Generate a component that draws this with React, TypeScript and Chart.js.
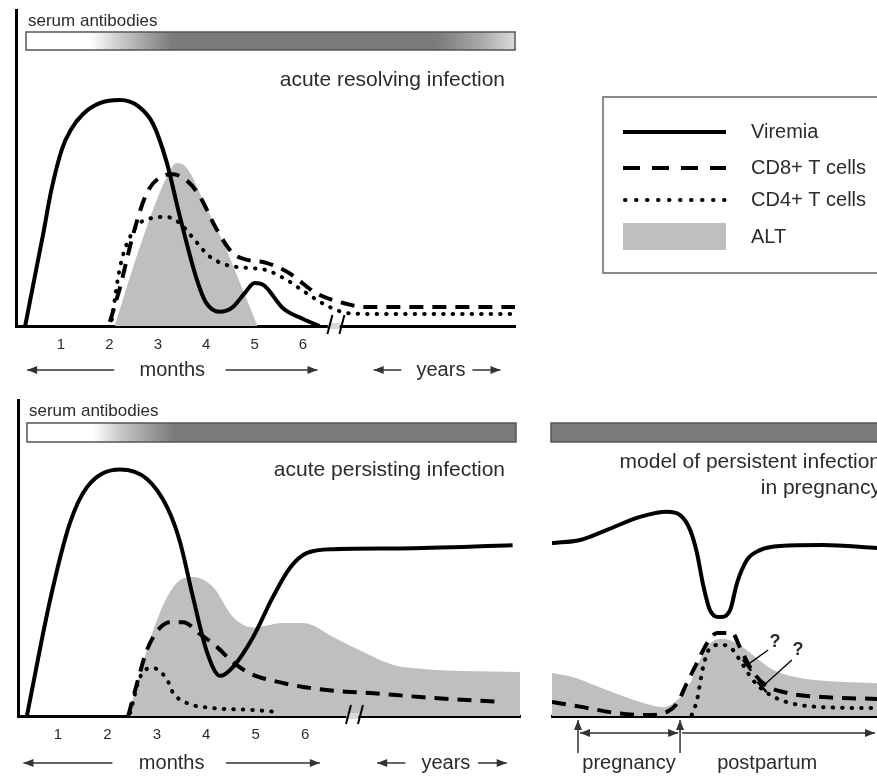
import React, { useEffect, useRef } from 'react';
import { Chart, registerables } from 'chart.js';

Chart.register(...registerables);

const FONT = '"Liberation Sans", Arial, Helvetica, sans-serif';
Chart.defaults.font.family = FONT;

// ---------- data ----------
const monthTicks = [1, 2, 3, 4, 5, 6];

// acute resolving infection  [month, level]
const topViremia = [[0.26, 0], [0.45, 15], [0.63, 29], [0.8, 43], [1.02, 56], [1.2, 62], [1.45, 67], [1.8, 70.5], [2.22, 71.5], [2.6, 69.5], [2.9, 64], [3.18, 52], [3.45, 35], [3.8, 15], [4.0, 7.3], [4.28, 4.5], [4.55, 6], [4.8, 10.5], [5.0, 13.6], [5.2, 12.8], [5.58, 5.7], [6.0, 2.2], [6.34, 0]];
const topCD8 = [[2.01, 1.3], [2.22, 12.3], [2.49, 29], [2.77, 42], [3.04, 47], [3.31, 48], [3.6, 46], [3.87, 41], [4.2, 31], [4.55, 23], [4.83, 21], [5.24, 20], [5.72, 16.7], [6.27, 10.4], [6.75, 7.6], [7.3, 6], [10.4, 6]];
const topCD4 = [[2.05, 2], [2.22, 18.7], [2.49, 30], [2.83, 34], [3.18, 34.5], [3.45, 32.6], [3.72, 28], [4.07, 22], [4.42, 19.3], [4.83, 18.4], [5.24, 17.7], [5.66, 14.6], [6.07, 10.4], [6.55, 6], [6.96, 4], [7.5, 3.8], [10.4, 3.8]];
const topALT = [[2.11, 0], [2.49, 18.7], [2.9, 36.7], [3.18, 47], [3.39, 51.6], [3.6, 50], [4.0, 37.7], [4.42, 24], [4.76, 11.4], [5.06, 0]];

// acute persisting infection
const botViremia = [[0.37, 0], [0.84, 36.7], [1.24, 61], [1.59, 72.5], [2.25, 78], [2.8, 75], [3.21, 66], [3.47, 55], [3.73, 37.7], [4.02, 20], [4.28, 12.7], [4.54, 15.5], [4.95, 25], [5.35, 37.7], [5.7, 47], [6.04, 51.6], [6.57, 52.8], [7.92, 53], [10.2, 54]];
const botCD8 = [[2.42, 0], [2.6, 10.4], [2.8, 20.9], [3.07, 28], [3.27, 29.7], [3.53, 29.7], [3.87, 26], [4.22, 21.8], [4.54, 17], [4.95, 13], [5.29, 11.4], [5.96, 9.2], [6.65, 7.9], [7.32, 7.3], [8.33, 6], [10.0, 4.4]];
const botCD4 = [[2.46, 1], [2.66, 12.3], [2.92, 15.2], [3.21, 11.4], [3.33, 7.3], [3.61, 4.1], [4.14, 2.5], [4.95, 1.9], [5.43, 1.3]];
const botALT = [[2.42, 0], [2.86, 24], [3.21, 37.7], [3.47, 43], [3.73, 44], [4.14, 40.8], [4.54, 31.3], [4.95, 28], [5.55, 29.4], [5.96, 29.4], [6.57, 25], [6.97, 21.8], [7.98, 15.5], [10.35, 13.9]];

// model of persistent infection in pregnancy  [time unit, level]
const pregViremia = [[0, 54.7], [0.86, 55.7], [1.69, 58.9], [2.71, 63], [3.54, 64.6], [3.94, 63.6], [4.25, 58.9], [4.46, 51.6], [4.65, 41.5], [4.86, 33.5], [5.17, 31.3], [5.48, 33.5], [5.69, 42], [6.0, 49.4], [6.4, 52.5], [7.02, 53.8], [8.34, 54.1], [10, 53.2]];
const pregCD8 = [[0, 4.4], [0.95, 2.8], [2, 0.9], [3, 0.3], [3.54, 1.3], [3.85, 4], [4.15, 10.4], [4.46, 16.8], [4.77, 23], [5.08, 26.3], [5.54, 26.3], [5.78, 21.8], [6.09, 15.5], [6.49, 10.4], [7.23, 7.3], [8.34, 6], [10, 5.4]];
const pregCD4 = [[4.3, 0.3], [4.46, 5], [4.65, 15.5], [4.86, 21.5], [5.17, 22.5], [5.48, 21.8], [5.78, 17.7], [6.18, 11.4], [6.62, 7.3], [7.23, 4.4], [8.34, 2.8], [10, 2.5]];
const pregALT = [[0, 13.6], [0.65, 12.3], [1.69, 8.2], [2.71, 4.4], [3.42, 2.8], [3.85, 5], [4.25, 10.4], [4.55, 17.7], [4.86, 23], [5.26, 24.4], [5.69, 23], [6.18, 19.3], [6.8, 14.6], [7.63, 12], [8.86, 10.8], [10, 10.4]];

// annotation positions (in data units)
const pregnancyStart = 0.8;
const delivery = 3.94;
const questionMarks = [[6.86, 23.4], [7.57, 20.9]];
const questionLines = [[[6.65, 20.9], [6.0, 16.1]], [[7.38, 17.7], [6.46, 9.2]]];
const monthsArrow = [0.3, 2.1, 3.3, 4.4, 6.3];
const yearsArrow = [7.46, 8.03, 8.85, 9.5, 10.08];
const topBreak = 6.69;
const botBreak = 7.01;

const legendLabels = ['Viremia', 'CD8+ T cells', 'CD4+ T cells', 'ALT'];

// ---------- drawing helpers ----------
const TXT = '#2b2b2b';
const ALT_FILL = '#bfbfbf';

const toXY = (a: number[][]) => a.map(([x, y]) => ({ x, y }));

function makeDatasets(vir: number[][], cd8: number[][], cd4: number[][], alt: number[][]) {
  return [
    { label: legendLabels[0], data: toXY(vir), borderColor: '#000', borderWidth: 4, fill: false, cubicInterpolationMode: 'monotone', order: 1 },
    { label: legendLabels[1], data: toXY(cd8), borderColor: '#000', borderWidth: 4, borderDash: [14, 9], fill: false, cubicInterpolationMode: 'monotone', order: 2 },
    { label: legendLabels[2], data: toXY(cd4), borderColor: '#000', borderWidth: 4, borderDash: [0.5, 9], borderCapStyle: 'round', fill: false, cubicInterpolationMode: 'monotone', order: 3 },
    { label: legendLabels[3], data: toXY(alt), borderColor: 'rgba(0,0,0,0)', borderWidth: 0, backgroundColor: ALT_FILL, fill: 'origin', cubicInterpolationMode: 'monotone', order: 4 },
  ];
}

function drawBar(ctx: CanvasRenderingContext2D, x1: number, y1: number, x2: number, y2: number, stops: [number, string][]) {
  const g = ctx.createLinearGradient(x1, 0, x2, 0);
  stops.forEach(([o, c]) => g.addColorStop(o, c));
  ctx.fillStyle = g;
  ctx.fillRect(x1, y1, x2 - x1, y2 - y1);
  ctx.strokeStyle = '#555';
  ctx.lineWidth = 1.5;
  ctx.strokeRect(x1, y1, x2 - x1, y2 - y1);
}

function text(ctx: CanvasRenderingContext2D, s: string, x: number, y: number, size: number, align: CanvasTextAlign = 'left', bold = false) {
  ctx.font = `${bold ? 'bold ' : ''}${size}px ${FONT}`;
  ctx.fillStyle = TXT;
  ctx.textAlign = align;
  ctx.textBaseline = 'middle';
  ctx.fillText(s, x, y);
}

function arrowHead(ctx: CanvasRenderingContext2D, x: number, y: number, dx: number, dy: number, len = 10, hw = 4) {
  const L = Math.hypot(dx, dy);
  const ux = dx / L, uy = dy / L;
  ctx.beginPath();
  ctx.moveTo(x, y);
  ctx.lineTo(x - ux * len - uy * hw, y - uy * len + ux * hw);
  ctx.lineTo(x - ux * len + uy * hw, y - uy * len - ux * hw);
  ctx.closePath();
  ctx.fill();
}

function arrow(ctx: CanvasRenderingContext2D, x1: number, y1: number, x2: number, y2: number, startHead: boolean, endHead: boolean, color = '#333') {
  ctx.strokeStyle = color;
  ctx.fillStyle = color;
  ctx.lineWidth = 1.5;
  ctx.beginPath();
  ctx.moveTo(x1, y1);
  ctx.lineTo(x2, y2);
  ctx.stroke();
  if (endHead) arrowHead(ctx, x2, y2, x2 - x1, y2 - y1);
  if (startHead) arrowHead(ctx, x1, y1, x1 - x2, y1 - y2);
}

function breakMark(ctx: CanvasRenderingContext2D, cx: number, y: number) {
  ctx.fillStyle = '#d9d9d9';
  ctx.beginPath();
  ctx.moveTo(cx - 9, y + 3);
  ctx.lineTo(cx + 3, y + 3);
  ctx.lineTo(cx + 4, y - 3);
  ctx.lineTo(cx - 8, y - 3);
  ctx.closePath();
  ctx.fill();
  ctx.strokeStyle = '#000';
  ctx.lineWidth = 2;
  [-6, 6].forEach((o) => {
    ctx.beginPath();
    ctx.moveTo(cx + o - 3, y + 8);
    ctx.lineTo(cx + o + 2, y - 11);
    ctx.stroke();
  });
}

function monthsYears(ctx: CanvasRenderingContext2D, xs: any, y: number) {
  const p = (v: number) => xs.getPixelForValue(v);
  arrow(ctx, p(monthsArrow[1]), y, p(monthsArrow[0]), y, false, true);
  text(ctx, 'months', p(monthsArrow[2]), y, 20, 'center');
  arrow(ctx, p(monthsArrow[3]), y, p(monthsArrow[4]), y, false, true);
  arrow(ctx, p(yearsArrow[1]), y, p(yearsArrow[0]), y, false, true);
  text(ctx, 'years', p(yearsArrow[2]), y, 20, 'center');
  arrow(ctx, p(yearsArrow[3]), y, p(yearsArrow[4]), y, false, true);
}

const topStops: [number, string][] = [[0, '#fff'], [0.13, '#fff'], [0.2, '#c4c4c4'], [0.3, '#7b7b7b'], [0.84, '#7b7b7b'], [0.93, '#a8a8a8'], [1, '#dcdcdc']];
const botStops: [number, string][] = [[0, '#fff'], [0.135, '#fff'], [0.2, '#c0c0c0'], [0.3, '#7b7b7b'], [1, '#7b7b7b']];

const topDecor = {
  id: 'topDecor',
  afterDraw(chart: any) {
    const { ctx, chartArea: a } = chart;
    const xs = chart.scales.x;
    ctx.save();
    text(ctx, 'serum antibodies', a.left + 12, 21, 17);
    drawBar(ctx, a.left + 10, 32, a.right, 50, topStops);
    text(ctx, 'acute resolving infection', a.right - 10, 80, 21, 'right');
    breakMark(ctx, xs.getPixelForValue(topBreak), a.bottom);
    monthsYears(ctx, xs, 370);
    // legend
    const L = { l: 603, t: 97, r: 900, b: 273 };
    ctx.strokeStyle = '#666';
    ctx.lineWidth = 1.5;
    ctx.strokeRect(L.l, L.t, L.r - L.l, L.b - L.t);
    const ds = chart.data.datasets;
    const rows = [132, 168, 200, 237];
    const x1 = 623, x2 = 726;
    ctx.strokeStyle = '#000';
    ctx.lineWidth = 4;
    ctx.setLineDash([]);
    ctx.beginPath(); ctx.moveTo(x1, rows[0]); ctx.lineTo(x2, rows[0]); ctx.stroke();
    ctx.setLineDash([17, 12]);
    ctx.beginPath(); ctx.moveTo(x1, rows[1]); ctx.lineTo(x2, rows[1]); ctx.stroke();
    ctx.setLineDash([0.5, 10.5]);
    ctx.lineCap = 'round';
    ctx.beginPath(); ctx.moveTo(x1 + 2, rows[2]); ctx.lineTo(x2, rows[2]); ctx.stroke();
    ctx.setLineDash([]);
    ctx.lineCap = 'butt';
    ctx.fillStyle = ALT_FILL;
    ctx.fillRect(x1, 223, x2 - x1, 27);
    ds.forEach((d: any, i: number) => text(ctx, d.label, 751, rows[i], 20));
    ctx.restore();
  },
};

const botDecor = {
  id: 'botDecor',
  afterDraw(chart: any) {
    const { ctx, chartArea: a } = chart;
    const xs = chart.scales.x;
    ctx.save();
    text(ctx, 'serum antibodies', a.left + 11, 21, 17);
    drawBar(ctx, a.left + 9, 33, a.right - 4, 52, botStops);
    text(ctx, 'acute persisting infection', a.right - 15, 80, 21, 'right');
    breakMark(ctx, xs.getPixelForValue(botBreak), a.bottom);
    monthsYears(ctx, xs, 373);
    ctx.restore();
  },
};

const pregDecor = {
  id: 'pregDecor',
  afterDraw(chart: any) {
    const { ctx, chartArea: a } = chart;
    const xs = chart.scales.x;
    const ys = chart.scales.y;
    const px = (v: number) => xs.getPixelForValue(v);
    const py = (v: number) => ys.getPixelForValue(v);
    ctx.save();
    drawBar(ctx, a.left - 1, 33, a.right + 20, 52, [[0, '#7b7b7b'], [1, '#7b7b7b']]);
    text(ctx, 'model of persistent infection', 351, 72, 21, 'right');
    text(ctx, 'in pregnancy', 351, 98, 21, 'right');
    // question marks
    ctx.strokeStyle = '#000';
    ctx.lineWidth = 1.3;
    questionLines.forEach(([p1, p2]) => {
      const x1 = px(p1[0]), y1 = py(p1[1]), x2 = px(p2[0]), y2 = py(p2[1]);
      ctx.beginPath(); ctx.moveTo(x1, y1); ctx.lineTo(x2, y2); ctx.stroke();
      const L = Math.hypot(x2 - x1, y2 - y1);
      const nx = -(y2 - y1) / L, ny = (x2 - x1) / L;
      ctx.lineWidth = 2.5;
      ctx.beginPath(); ctx.moveTo(x2 - nx * 7, y2 - ny * 7); ctx.lineTo(x2 + nx * 7, y2 + ny * 7); ctx.stroke();
      ctx.lineWidth = 1.3;
    });
    questionMarks.forEach(([u, v]) => text(ctx, '?', px(u), py(v), 18, 'center', true));
    // pregnancy / postpartum
    const xa = px(pregnancyStart), xb = px(delivery);
    arrow(ctx, xa, 363, xa, a.bottom + 4, false, true);
    arrow(ctx, xb, 363, xb, a.bottom + 4, false, true);
    arrow(ctx, xa + 2, 343, xb - 2, 343, true, true);
    arrow(ctx, xb + 2, 343, a.right - 2, 343, false, true);
    text(ctx, 'pregnancy', (xa + xb) / 2, 373, 20, 'center');
    text(ctx, 'postpartum', px(6.62), 373, 20, 'center');
    ctx.restore();
  },
};

function makeConfig(opts: {
  vir: number[][]; cd8: number[][]; cd4: number[][]; alt: number[][];
  min: number; max: number; pad: { left: number; right: number; top: number };
  yAxis: boolean; ticks: boolean; decor: any;
}) {
  return {
    type: 'line',
    data: { datasets: makeDatasets(opts.vir, opts.cd8, opts.cd4, opts.alt) },
    options: {
      animation: false,
      responsive: false,
      maintainAspectRatio: false,
      events: [],
      layout: { padding: { left: opts.pad.left, right: opts.pad.right, top: opts.pad.top, bottom: 0 } },
      plugins: { legend: { display: false }, tooltip: { enabled: false } },
      elements: { point: { radius: 0 }, line: { borderJoinStyle: 'round' } },
      scales: {
        x: {
          type: 'linear',
          min: opts.min,
          max: opts.max,
          grid: { display: false, drawTicks: false },
          border: { display: true, color: '#000', width: 3 },
          ticks: { display: opts.ticks, padding: 10, color: TXT, font: { size: 15, family: FONT } },
          afterBuildTicks: (s: any) => { s.ticks = monthTicks.map((v) => ({ value: v })); },
          afterFit: (s: any) => { s.height = 60; },
        },
        y: {
          display: opts.yAxis,
          min: 0,
          max: 100,
          grid: { display: false, drawTicks: false },
          border: { display: true, color: '#000', width: 3 },
          ticks: { display: false },
          afterFit: (s: any) => { s.width = 0; },
        },
      },
    },
    plugins: [opts.decor],
  };
}

function ChartBox({ make, left, top, width, height }: { make: () => any; left: number; top: number; width: number; height: number }) {
  const ref = useRef<HTMLCanvasElement>(null);
  useEffect(() => {
    const c = new Chart(ref.current as HTMLCanvasElement, make());
    return () => c.destroy();
  }, []);
  return <canvas ref={ref} width={width} height={height} style={{ position: 'absolute', left, top, width, height }} />;
}

export default function App() {
  return (
    <div style={{ position: 'fixed', left: 0, top: 0, width: 877, height: 776, background: '#fff', overflow: 'hidden' }}>
      <ChartBox
        left={0} top={0} width={877} height={386}
        make={() => makeConfig({ vir: topViremia, cd8: topCD8, cd4: topCD4, alt: topALT, min: 0.07, max: 10.38, pad: { left: 16, right: 362, top: 10 }, yAxis: true, ticks: true, decor: topDecor })}
      />
      <ChartBox
        left={0} top={390} width={530} height={386}
        make={() => makeConfig({ vir: botViremia, cd8: botCD8, cd4: botCD4, alt: botALT, min: 0.19, max: 10.35, pad: { left: 18, right: 10, top: 10 }, yAxis: true, ticks: true, decor: botDecor })}
      />
      <ChartBox
        left={530} top={390} width={347} height={386}
        make={() => makeConfig({ vir: pregViremia, cd8: pregCD8, cd4: pregCD4, alt: pregALT, min: 0, max: 10, pad: { left: 22, right: 0, top: 10 }, yAxis: false, ticks: false, decor: pregDecor })}
      />
    </div>
  );
}
